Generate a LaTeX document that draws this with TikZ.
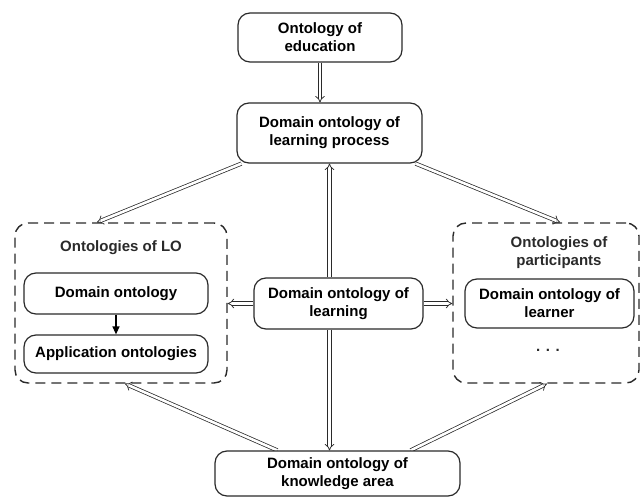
\documentclass[tikz,border=0pt]{standalone}
\usepackage{fontspec}
\setmainfont{Liberation Sans}
\usetikzlibrary{arrows.meta,backgrounds}
\definecolor{ink}{HTML}{2A2A2A}
\tikzset{
  box/.style={draw=ink, line width=1.2pt, rounded corners=12pt, fill=white,
    align=center, inner sep=0pt, font=\fontsize{15}{18}\selectfont\bfseries},
  group/.style={draw=ink, line width=1.4pt, rounded corners=13pt,
    dash pattern=on 10pt off 6pt, inner sep=0pt},
  dbl/.style={draw=ink, line width=0.75pt, double=white, double distance=2.6pt,
    -{Implies[scale=1.5]}},
  solidarrow/.style={draw=black, line width=1.3pt, -{Triangle[length=8pt,width=7pt]}},
  label/.style={align=center, font=\fontsize{15}{18}\selectfont\bfseries, text=ink}
}
\begin{document}
\begin{tikzpicture}[x=1pt,y=-1pt]
\useasboundingbox (0,0) rectangle (643,497);

% top of the hierarchy
\node[box, minimum width=164pt, minimum height=49pt] (edu) at (320,37.5)
  {Ontology of\\education};
\node[box, minimum width=185pt, minimum height=60pt] (lp) at (329.5,133)
  {Domain ontology of\\learning process};

% group of learning-object ontologies
\node[group, minimum width=212pt, minimum height=160pt] (lo) at (121,303) {};
\node[label] (lotitle) at (121,248) {Ontologies of LO};
\node[box, minimum width=184pt, minimum height=41pt] (dom) at (116,293.5)
  {Domain ontology};
\node[box, minimum width=184pt, minimum height=38pt] (app) at (116,354)
  {Application ontologies};

% group of participant ontologies
\node[group, minimum width=186pt, minimum height=160pt] (part) at (546,303) {};
\node[label] (parttitle) at (559,253) {Ontologies of\\participants};
\node[box, minimum width=169pt, minimum height=49pt] (learner) at (549.5,303.5)
  {Domain ontology of\\learner};
\node[label] (more) at (548,350) {. . .};

% central and bottom nodes
\node[box, minimum width=169pt, minimum height=51pt] (learn) at (338.5,303.5)
  {Domain ontology of\\learning};
\node[box, minimum width=245pt, minimum height=45pt] (ka) at (337.5,473.5)
  {Domain ontology of\\knowledge area};

\draw[solidarrow] (dom.south) -- (app.north);

\begin{scope}[on background layer]
  \draw[dbl] (edu.south) -- (edu.south |- lp.north);
  \draw[dbl] (lp.south |- learn.north) -- (lp.south);
  \draw[dbl] (lp.south |- learn.south) -- (lp.south |- ka.north);
  \draw[dbl] ([xshift=5pt]lp.south west) -- ([xshift=-24pt]lo.north);
  \draw[dbl] ([xshift=-7pt]lp.south east) -- ([xshift=14pt]part.north);
  \draw[dbl] (learn.west) -- (learn.west -| lo.east);
  \draw[dbl] (learn.east) -- (learn.east -| part.west);
  \draw[dbl] ([xshift=63pt]ka.north west) -- ([xshift=4pt]lo.south);
  \draw[dbl] ([xshift=-50pt]ka.north east) -- ([xshift=1pt]part.south);
\end{scope}
\end{tikzpicture}
\end{document}
